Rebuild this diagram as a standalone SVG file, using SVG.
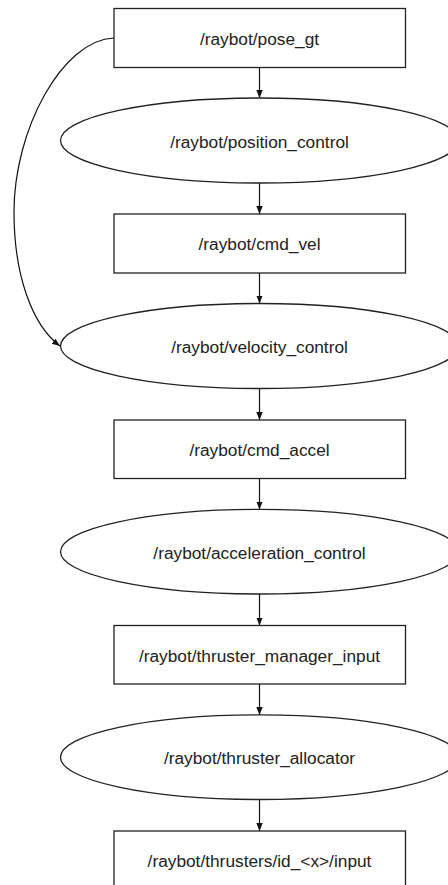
<svg xmlns="http://www.w3.org/2000/svg" width="448" height="885" viewBox="0 0 448 885">
<defs>
<marker id="ah" viewBox="0 0 10 10" refX="10" refY="5" markerWidth="8" markerHeight="8" markerUnits="userSpaceOnUse" orient="auto">
<path d="M0,1 L10,5 L0,9 Z" fill="#111"/>
</marker>
<style>
.n{fill:#fff;stroke:#222;stroke-width:1.3}
.t{font-family:"Liberation Sans",Arial,sans-serif;font-size:17.3px;fill:#222;text-anchor:middle}
.e{fill:none;stroke:#111;stroke-width:1.2;marker-end:url(#ah)}
</style>
</defs>
<rect width="448" height="885" fill="#fff"/>
<g id="connectors">
<line class="e" x1="259.5" y1="67" x2="259.5" y2="98"/>
<line class="e" x1="259.5" y1="183" x2="259.5" y2="214"/>
<line class="e" x1="259.5" y1="273" x2="259.5" y2="303.5"/>
<line class="e" x1="259.5" y1="388.5" x2="259.5" y2="420"/>
<line class="e" x1="259.5" y1="478.5" x2="259.5" y2="509.5"/>
<line class="e" x1="259.5" y1="594" x2="259.5" y2="625.5"/>
<line class="e" x1="259.5" y1="684" x2="259.5" y2="715"/>
<line class="e" x1="259.5" y1="799.5" x2="259.5" y2="831"/>
<path class="e" d="M114,38 C62,40 14,130 14,212 C14,275 32,325 60,346"/>
</g>
<g id="pose_gt"><rect class="n" x="114" y="8.5" width="291.5" height="59"/><text class="t" x="259.5" y="45">/raybot/pose_gt</text></g>
<g id="position_control"><ellipse class="n" cx="259.5" cy="140.5" rx="199" ry="42.5"/><text class="t" x="259.5" y="148">/raybot/position_control</text></g>
<g id="cmd_vel"><rect class="n" x="114" y="214" width="291.5" height="59"/><text class="t" x="259.5" y="250">/raybot/cmd_vel</text></g>
<g id="velocity_control"><ellipse class="n" cx="259.5" cy="346" rx="199" ry="42.5"/><text class="t" x="259.5" y="352.5">/raybot/velocity_control</text></g>
<g id="cmd_accel"><rect class="n" x="114" y="420" width="291.5" height="58.5"/><text class="t" x="259.5" y="455.5">/raybot/cmd_accel</text></g>
<g id="acceleration_control"><ellipse class="n" cx="259.5" cy="551.7" rx="199" ry="42.3"/><text class="t" x="259.5" y="558.5">/raybot/acceleration_control</text></g>
<g id="thruster_manager_input"><rect class="n" x="114" y="625.5" width="291.5" height="58.5"/><text class="t" x="259.5" y="662">/raybot/thruster_manager_input</text></g>
<g id="thruster_allocator"><ellipse class="n" cx="259.5" cy="757.2" rx="199" ry="42.3"/><text class="t" x="259.5" y="763.5">/raybot/thruster_allocator</text></g>
<g id="thrusters_input"><rect class="n" x="114" y="831" width="291.5" height="59"/><text class="t" x="259.5" y="866.5">/raybot/thrusters/id_&lt;x&gt;/input</text></g>
</svg>
